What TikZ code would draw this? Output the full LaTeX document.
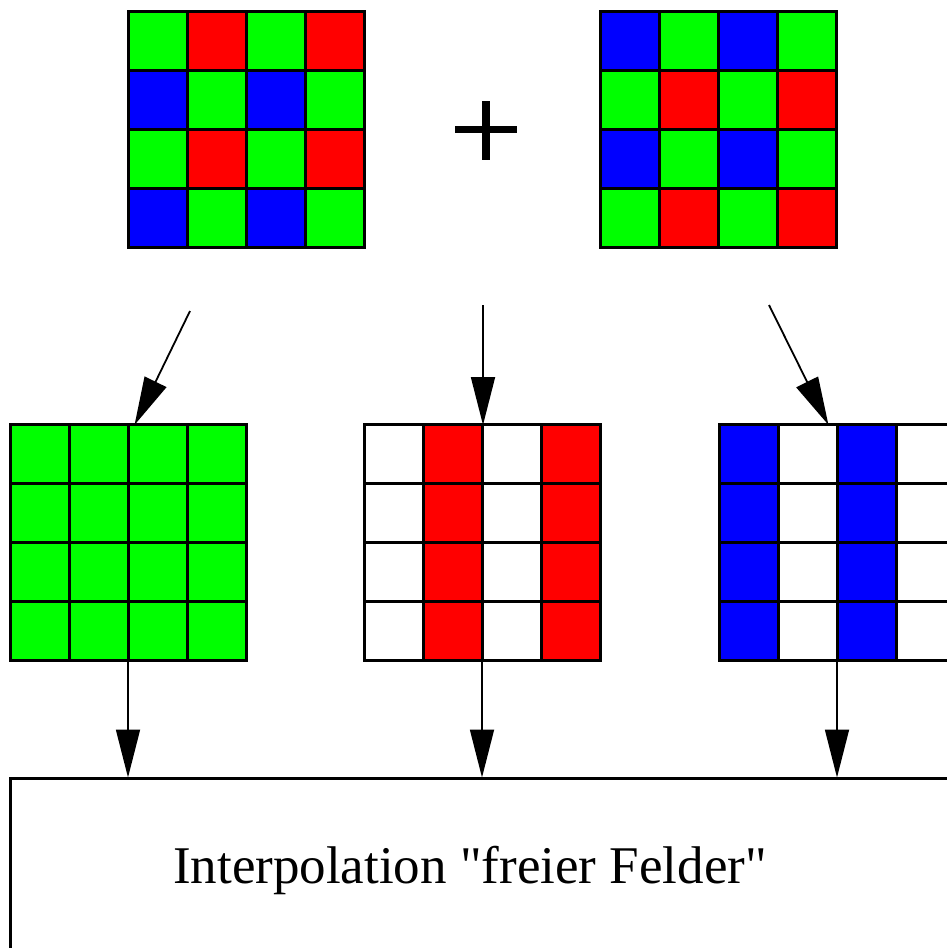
\documentclass[tikz,border=0pt]{standalone}
\usepackage{fontspec}
\setmainfont{Liberation Serif}
\newfontfamily\labelfont{Liberation Serif}[Ligatures=TeXOff]
\usetikzlibrary{arrows.meta}
\definecolor{pg}{HTML}{00FF00}
\definecolor{pr}{HTML}{FF0000}
\definecolor{pb}{HTML}{0000FF}
\tikzset{
  gridbox/.style={minimum width=236pt, minimum height=236pt, inner sep=0pt, outer sep=0pt},
  gridline/.style={line width=3pt, line cap=rect},
  conn/.style={line width=1.8pt, -{Triangle[length=48pt,width=24pt]}, shorten >=-1pt},
  framebox/.style={draw, line width=3pt, minimum width=950pt, minimum height=182pt, inner sep=0pt},
  labeltext/.style={font=\labelfont\fontsize{53}{60}\selectfont, inner sep=0pt, anchor=base},
}
% #1 node name, #2 list of 16 colours row-major
\newcommand\cellgrid[2]{%
  \foreach \c [count=\k from 0] in {#2} {
    \pgfmathtruncatemacro\rr{\k/4}
    \pgfmathtruncatemacro\ss{mod(\k,4)}
    \fill[\c] ([xshift=\ss*59pt, yshift=-\rr*59pt]#1.north west) rectangle ++(59,59);
  }
  \foreach \i in {0,...,4} {
    \draw[gridline] ([xshift=\i*59pt]#1.north west) -- ([xshift=\i*59pt]#1.south west);
    \draw[gridline] ([yshift=-\i*59pt]#1.north west) -- ([yshift=-\i*59pt]#1.north east);
  }
}
\begin{document}
\begin{tikzpicture}[x=1pt,y=-1pt]
\useasboundingbox (0,0) rectangle (946,948);
% grids
\node[gridbox] (topL) at (246,129) {};
\node[gridbox] (topR) at (718.5,129) {};
\node[gridbox] (gG) at (128,542) {};
\node[gridbox] (gR) at (482,542) {};
\node[gridbox] (gB) at (837,542) {};
\cellgrid{topL}{pg,pr,pg,pr,pb,pg,pb,pg,pg,pr,pg,pr,pb,pg,pb,pg}
\cellgrid{topR}{pb,pg,pb,pg,pg,pr,pg,pr,pb,pg,pb,pg,pg,pr,pg,pr}
\cellgrid{gG}{pg,pg,pg,pg,pg,pg,pg,pg,pg,pg,pg,pg,pg,pg,pg,pg}
\cellgrid{gR}{white,pr,white,pr,white,pr,white,pr,white,pr,white,pr,white,pr,white,pr}
\cellgrid{gB}{pb,white,pb,white,pb,white,pb,white,pb,white,pb,white,pb,white,pb,white}
% plus sign
\fill (455,126) rectangle (517,133);
\fill (482,101) rectangle (490,160);
% bottom box and label
\node[framebox] (box) at (485,869) {};
\node[labeltext] (lbl) at (470,883) {Interpolation "freier Felder"};
% top arrows
\coordinate (s1) at (190,311);
\coordinate (t1) at (135,424);
\coordinate (s2) at (483,305);
\coordinate (s3) at (769,305);
\coordinate (t3) at (828,424);
\draw[conn] (s1) -- (t1);
\draw[conn] (s2) -- (s2 |- gR.north);
\draw[conn] (s3) -- (t3);
% bottom arrows
\draw[conn] (gG.south) -- (gG.south |- box.north);
\draw[conn] (gR.south) -- (gR.south |- box.north);
\draw[conn] (gB.south) -- (gB.south |- box.north);
\end{tikzpicture}
\end{document}
